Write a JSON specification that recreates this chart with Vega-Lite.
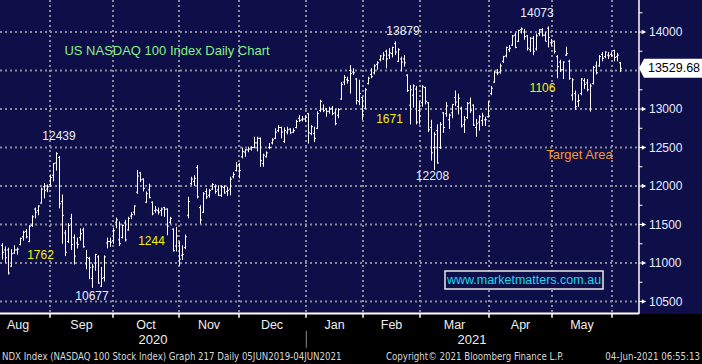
{
"$schema":"https://vega.github.io/schema/vega-lite/v6.json",
"width":702,"height":314,
"autosize":{"type":"none"},
"padding":{"left":0,"top":0,"right":0,"bottom":50},
"background":"#000000",
"config":{"view":{"fill":"#0e0e48","stroke":null}},
"datasets":{
"bars":[
{"date":"2020-08-07","t":0,"o":11230,"h":11258,"l":11045,"c":11140},
{"date":"2020-08-10","t":1,"o":11170,"h":11215,"l":11000,"c":11070},
{"date":"2020-08-11","t":2,"o":11170,"h":11200,"l":10850,"c":10870},
{"date":"2020-08-12","t":3,"o":10960,"h":11180,"l":10950,"c":11120},
{"date":"2020-08-13","t":4,"o":11130,"h":11230,"l":11120,"c":11170},
{"date":"2020-08-14","t":5,"o":11170,"h":11200,"l":11110,"c":11180},
{"date":"2020-08-17","t":6,"o":11240,"h":11330,"l":11230,"c":11320},
{"date":"2020-08-18","t":7,"o":11340,"h":11420,"l":11290,"c":11400},
{"date":"2020-08-19","t":8,"o":11410,"h":11440,"l":11320,"c":11340},
{"date":"2020-08-20","t":9,"o":11280,"h":11490,"l":11270,"c":11480},
{"date":"2020-08-21","t":10,"o":11490,"h":11620,"l":11470,"c":11600},
{"date":"2020-08-24","t":11,"o":11700,"h":11720,"l":11580,"c":11660},
{"date":"2020-08-25","t":12,"o":11680,"h":11750,"l":11620,"c":11740},
{"date":"2020-08-26","t":13,"o":11780,"h":11980,"l":11770,"c":11960},
{"date":"2020-08-27","t":14,"o":11990,"h":12040,"l":11840,"c":11940},
{"date":"2020-08-28","t":15,"o":11960,"h":12020,"l":11920,"c":11990},
{"date":"2020-08-31","t":16,"o":12020,"h":12150,"l":11990,"c":12110},
{"date":"2020-09-01","t":17,"o":12140,"h":12300,"l":12060,"c":12290},
{"date":"2020-09-02","t":18,"o":12300,"h":12439,"l":12200,"c":12420},
{"date":"2020-09-03","t":19,"o":12370,"h":12390,"l":11710,"c":11770},
{"date":"2020-09-04","t":20,"o":11800,"h":11890,"l":11250,"c":11620},
{"date":"2020-09-08","t":21,"o":11390,"h":11430,"l":11090,"c":11140},
{"date":"2020-09-09","t":22,"o":11280,"h":11520,"l":11260,"c":11490},
{"date":"2020-09-10","t":23,"o":11580,"h":11640,"l":11170,"c":11240},
{"date":"2020-09-11","t":24,"o":11330,"h":11370,"l":10980,"c":11090},
{"date":"2020-09-14","t":25,"o":11260,"h":11330,"l":11190,"c":11240},
{"date":"2020-09-15","t":26,"o":11330,"h":11450,"l":11290,"c":11380},
{"date":"2020-09-16","t":27,"o":11430,"h":11460,"l":11200,"c":11210},
{"date":"2020-09-17","t":28,"o":10990,"h":11170,"l":10920,"c":11070},
{"date":"2020-09-18","t":29,"o":11060,"h":11080,"l":10790,"c":10940},
{"date":"2020-09-21","t":30,"o":10800,"h":10990,"l":10677,"c":10950},
{"date":"2020-09-22","t":31,"o":11000,"h":11120,"l":10900,"c":11110},
{"date":"2020-09-23","t":32,"o":11080,"h":11100,"l":10730,"c":10740},
{"date":"2020-09-24","t":33,"o":10700,"h":10950,"l":10690,"c":10800},
{"date":"2020-09-25","t":34,"o":10810,"h":11100,"l":10760,"c":11080},
{"date":"2020-09-28","t":35,"o":11260,"h":11330,"l":11190,"c":11280},
{"date":"2020-09-29","t":36,"o":11280,"h":11330,"l":11210,"c":11270},
{"date":"2020-09-30","t":37,"o":11290,"h":11460,"l":11250,"c":11420},
{"date":"2020-10-01","t":38,"o":11530,"h":11590,"l":11450,"c":11560},
{"date":"2020-10-02","t":39,"o":11300,"h":11540,"l":11220,"c":11250},
{"date":"2020-10-05","t":40,"o":11330,"h":11500,"l":11320,"c":11490},
{"date":"2020-10-06","t":41,"o":11520,"h":11560,"l":11280,"c":11300},
{"date":"2020-10-07","t":42,"o":11430,"h":11600,"l":11420,"c":11580},
{"date":"2020-10-08","t":43,"o":11610,"h":11660,"l":11570,"c":11630},
{"date":"2020-10-09","t":44,"o":11660,"h":11750,"l":11620,"c":11740},
{"date":"2020-10-12","t":45,"o":11920,"h":12208,"l":11900,"c":12130},
{"date":"2020-10-13","t":46,"o":12170,"h":12180,"l":12050,"c":12080},
{"date":"2020-10-14","t":47,"o":12090,"h":12100,"l":11930,"c":11970},
{"date":"2020-10-15","t":48,"o":11790,"h":11930,"l":11780,"c":11900},
{"date":"2020-10-16","t":49,"o":11950,"h":12030,"l":11840,"c":11850},
{"date":"2020-10-19","t":50,"o":11790,"h":11800,"l":11620,"c":11640},
{"date":"2020-10-20","t":51,"o":11680,"h":11740,"l":11650,"c":11690},
{"date":"2020-10-21","t":52,"o":11680,"h":11720,"l":11630,"c":11660},
{"date":"2020-10-22","t":53,"o":11680,"h":11720,"l":11610,"c":11700},
{"date":"2020-10-23","t":54,"o":11720,"h":11730,"l":11600,"c":11700},
{"date":"2020-10-26","t":55,"o":11700,"h":11710,"l":11360,"c":11480},
{"date":"2020-10-27","t":56,"o":11530,"h":11600,"l":11510,"c":11580},
{"date":"2020-10-28","t":57,"o":11440,"h":11450,"l":11150,"c":11160},
{"date":"2020-10-29","t":58,"o":11220,"h":11470,"l":11150,"c":11350},
{"date":"2020-10-30","t":59,"o":11260,"h":11280,"l":10964,"c":11050},
{"date":"2020-11-02","t":60,"o":11100,"h":11230,"l":11040,"c":11110},
{"date":"2020-11-03","t":61,"o":11200,"h":11370,"l":11180,"c":11340},
{"date":"2020-11-04","t":62,"o":11620,"h":11860,"l":11580,"c":11800},
{"date":"2020-11-05","t":63,"o":12030,"h":12120,"l":12010,"c":12090},
{"date":"2020-11-06","t":64,"o":12060,"h":12140,"l":12000,"c":12100},
{"date":"2020-11-09","t":65,"o":12240,"h":12272,"l":11840,"c":11860},
{"date":"2020-11-10","t":66,"o":11720,"h":11750,"l":11510,"c":11560},
{"date":"2020-11-11","t":67,"o":11660,"h":11920,"l":11650,"c":11900},
{"date":"2020-11-12","t":68,"o":11930,"h":11970,"l":11830,"c":11860},
{"date":"2020-11-13","t":69,"o":11880,"h":11960,"l":11850,"c":11940},
{"date":"2020-11-16","t":70,"o":11960,"h":12040,"l":11950,"c":12020},
{"date":"2020-11-17","t":71,"o":11990,"h":12020,"l":11900,"c":11930},
{"date":"2020-11-18","t":72,"o":11950,"h":12010,"l":11870,"c":11880},
{"date":"2020-11-19","t":73,"o":11880,"h":12010,"l":11860,"c":11990},
{"date":"2020-11-20","t":74,"o":11980,"h":12010,"l":11900,"c":11910},
{"date":"2020-11-23","t":75,"o":11930,"h":11990,"l":11870,"c":11940},
{"date":"2020-11-24","t":76,"o":11960,"h":12120,"l":11880,"c":12090},
{"date":"2020-11-25","t":77,"o":12120,"h":12180,"l":12100,"c":12150},
{"date":"2020-11-27","t":78,"o":12200,"h":12310,"l":12190,"c":12260},
{"date":"2020-11-30","t":79,"o":12280,"h":12300,"l":12100,"c":12200},
{"date":"2020-12-01","t":80,"o":12380,"h":12500,"l":12360,"c":12450},
{"date":"2020-12-02","t":81,"o":12440,"h":12480,"l":12380,"c":12470},
{"date":"2020-12-03","t":82,"o":12470,"h":12510,"l":12440,"c":12480},
{"date":"2020-12-04","t":83,"o":12480,"h":12515,"l":12460,"c":12500},
{"date":"2020-12-07","t":84,"o":12500,"h":12640,"l":12490,"c":12560},
{"date":"2020-12-08","t":85,"o":12560,"h":12640,"l":12450,"c":12620},
{"date":"2020-12-09","t":86,"o":12620,"h":12630,"l":12250,"c":12330},
{"date":"2020-12-10","t":87,"o":12290,"h":12420,"l":12250,"c":12400},
{"date":"2020-12-11","t":88,"o":12380,"h":12450,"l":12370,"c":12430},
{"date":"2020-12-14","t":89,"o":12500,"h":12560,"l":12480,"c":12500},
{"date":"2020-12-15","t":90,"o":12560,"h":12620,"l":12540,"c":12600},
{"date":"2020-12-16","t":91,"o":12620,"h":12750,"l":12610,"c":12700},
{"date":"2020-12-17","t":92,"o":12720,"h":12790,"l":12700,"c":12760},
{"date":"2020-12-18","t":93,"o":12760,"h":12770,"l":12620,"c":12700},
{"date":"2020-12-21","t":94,"o":12580,"h":12760,"l":12560,"c":12720},
{"date":"2020-12-22","t":95,"o":12700,"h":12770,"l":12670,"c":12730},
{"date":"2020-12-23","t":96,"o":12740,"h":12750,"l":12680,"c":12690},
{"date":"2020-12-24","t":97,"o":12700,"h":12750,"l":12690,"c":12720},
{"date":"2020-12-28","t":98,"o":12760,"h":12860,"l":12750,"c":12840},
{"date":"2020-12-29","t":99,"o":12880,"h":12920,"l":12830,"c":12850},
{"date":"2020-12-30","t":100,"o":12860,"h":12910,"l":12840,"c":12870},
{"date":"2020-12-31","t":101,"o":12870,"h":12920,"l":12830,"c":12890},
{"date":"2021-01-04","t":102,"o":12940,"h":12950,"l":12550,"c":12690},
{"date":"2021-01-05","t":103,"o":12680,"h":12790,"l":12660,"c":12770},
{"date":"2021-01-06","t":104,"o":12680,"h":12770,"l":12570,"c":12620},
{"date":"2021-01-07","t":105,"o":12750,"h":12970,"l":12740,"c":12940},
{"date":"2021-01-08","t":106,"o":12980,"h":13120,"l":12960,"c":13100},
{"date":"2021-01-11","t":107,"o":13000,"h":13060,"l":12960,"c":12980},
{"date":"2021-01-12","t":108,"o":13000,"h":13010,"l":12900,"c":12970},
{"date":"2021-01-13","t":109,"o":12970,"h":13030,"l":12940,"c":13000},
{"date":"2021-01-14","t":110,"o":13010,"h":13040,"l":12920,"c":12940},
{"date":"2021-01-15","t":111,"o":12950,"h":13000,"l":12790,"c":12810},
{"date":"2021-01-19","t":112,"o":12920,"h":13010,"l":12880,"c":12990},
{"date":"2021-01-20","t":113,"o":13130,"h":13350,"l":13120,"c":13320},
{"date":"2021-01-21","t":114,"o":13350,"h":13440,"l":13310,"c":13410},
{"date":"2021-01-22","t":115,"o":13380,"h":13420,"l":13330,"c":13370},
{"date":"2021-01-25","t":116,"o":13500,"h":13570,"l":13200,"c":13460},
{"date":"2021-01-26","t":117,"o":13480,"h":13530,"l":13440,"c":13470},
{"date":"2021-01-27","t":118,"o":13390,"h":13400,"l":13060,"c":13110},
{"date":"2021-01-28","t":119,"o":13100,"h":13380,"l":13050,"c":13200},
{"date":"2021-01-29","t":120,"o":13150,"h":13160,"l":12860,"c":12930},
{"date":"2021-02-01","t":121,"o":13010,"h":13270,"l":13000,"c":13250},
{"date":"2021-02-02","t":122,"o":13330,"h":13420,"l":13320,"c":13400},
{"date":"2021-02-03","t":123,"o":13450,"h":13530,"l":13400,"c":13420},
{"date":"2021-02-04","t":124,"o":13470,"h":13580,"l":13450,"c":13560},
{"date":"2021-02-05","t":125,"o":13580,"h":13620,"l":13510,"c":13600},
{"date":"2021-02-08","t":126,"o":13640,"h":13700,"l":13620,"c":13690},
{"date":"2021-02-09","t":127,"o":13650,"h":13740,"l":13640,"c":13700},
{"date":"2021-02-10","t":128,"o":13750,"h":13770,"l":13530,"c":13650},
{"date":"2021-02-11","t":129,"o":13700,"h":13790,"l":13650,"c":13730},
{"date":"2021-02-12","t":130,"o":13720,"h":13810,"l":13670,"c":13800},
{"date":"2021-02-16","t":131,"o":13850,"h":13879,"l":13700,"c":13740},
{"date":"2021-02-17","t":132,"o":13620,"h":13790,"l":13610,"c":13770},
{"date":"2021-02-18","t":133,"o":13650,"h":13680,"l":13490,"c":13610},
{"date":"2021-02-19","t":134,"o":13650,"h":13700,"l":13550,"c":13600},
{"date":"2021-02-22","t":135,"o":13440,"h":13450,"l":13220,"c":13240},
{"date":"2021-02-23","t":136,"o":13050,"h":13310,"l":12800,"c":13250},
{"date":"2021-02-24","t":137,"o":13180,"h":13320,"l":13020,"c":13300},
{"date":"2021-02-25","t":138,"o":13260,"h":13300,"l":12800,"c":12830},
{"date":"2021-02-26","t":139,"o":12980,"h":13100,"l":12800,"c":12910},
{"date":"2021-03-01","t":140,"o":13080,"h":13310,"l":13030,"c":13290},
{"date":"2021-03-02","t":141,"o":13280,"h":13290,"l":13060,"c":13100},
{"date":"2021-03-03","t":142,"o":13080,"h":13090,"l":12700,"c":12730},
{"date":"2021-03-04","t":143,"o":12760,"h":12860,"l":12330,"c":12430},
{"date":"2021-03-05","t":144,"o":12500,"h":12700,"l":12208,"c":12670},
{"date":"2021-03-08","t":145,"o":12720,"h":12800,"l":12290,"c":12300},
{"date":"2021-03-09","t":146,"o":12500,"h":12830,"l":12480,"c":12800},
{"date":"2021-03-10","t":147,"o":12950,"h":12960,"l":12690,"c":12760},
{"date":"2021-03-11","t":148,"o":12940,"h":13090,"l":12900,"c":13040},
{"date":"2021-03-12","t":149,"o":12860,"h":12940,"l":12740,"c":12920},
{"date":"2021-03-15","t":150,"o":12950,"h":13060,"l":12880,"c":13060},
{"date":"2021-03-16","t":151,"o":13150,"h":13240,"l":13040,"c":13090},
{"date":"2021-03-17","t":152,"o":13030,"h":13200,"l":12930,"c":13140},
{"date":"2021-03-18","t":153,"o":13010,"h":13030,"l":12760,"c":12780},
{"date":"2021-03-19","t":154,"o":12800,"h":12910,"l":12690,"c":12860},
{"date":"2021-03-22","t":155,"o":12890,"h":13090,"l":12870,"c":13070},
{"date":"2021-03-23","t":156,"o":13080,"h":13150,"l":12950,"c":12980},
{"date":"2021-03-24","t":157,"o":13050,"h":13060,"l":12780,"c":12790},
{"date":"2021-03-25","t":158,"o":12760,"h":12870,"l":12640,"c":12810},
{"date":"2021-03-26","t":159,"o":12830,"h":12920,"l":12720,"c":12900},
{"date":"2021-03-29","t":160,"o":12850,"h":12950,"l":12780,"c":12910},
{"date":"2021-03-30","t":161,"o":12860,"h":12900,"l":12780,"c":12860},
{"date":"2021-03-31","t":162,"o":12900,"h":13100,"l":12890,"c":13090},
{"date":"2021-04-01","t":163,"o":13200,"h":13300,"l":13180,"c":13270},
{"date":"2021-04-05","t":164,"o":13350,"h":13500,"l":13340,"c":13480},
{"date":"2021-04-06","t":165,"o":13470,"h":13520,"l":13440,"c":13470},
{"date":"2021-04-07","t":166,"o":13480,"h":13590,"l":13460,"c":13560},
{"date":"2021-04-08","t":167,"o":13620,"h":13690,"l":13600,"c":13680},
{"date":"2021-04-09","t":168,"o":13690,"h":13810,"l":13670,"c":13800},
{"date":"2021-04-12","t":169,"o":13770,"h":13830,"l":13740,"c":13790},
{"date":"2021-04-13","t":170,"o":13830,"h":13960,"l":13820,"c":13950},
{"date":"2021-04-14","t":171,"o":13960,"h":13990,"l":13790,"c":13800},
{"date":"2021-04-15","t":172,"o":13880,"h":14030,"l":13870,"c":14020},
{"date":"2021-04-16","t":173,"o":14030,"h":14060,"l":13980,"c":14040},
{"date":"2021-04-19","t":174,"o":14000,"h":14040,"l":13900,"c":13940},
{"date":"2021-04-20","t":175,"o":13950,"h":13960,"l":13760,"c":13790},
{"date":"2021-04-21","t":176,"o":13770,"h":13930,"l":13740,"c":13920},
{"date":"2021-04-22","t":177,"o":13920,"h":13950,"l":13700,"c":13750},
{"date":"2021-04-23","t":178,"o":13780,"h":13980,"l":13760,"c":13950},
{"date":"2021-04-26","t":179,"o":13980,"h":14040,"l":13950,"c":14030},
{"date":"2021-04-27","t":180,"o":14030,"h":14050,"l":13940,"c":13960},
{"date":"2021-04-28","t":181,"o":13960,"h":14000,"l":13880,"c":13880},
{"date":"2021-04-29","t":182,"o":14050,"h":14073,"l":13800,"c":13930},
{"date":"2021-04-30","t":183,"o":13860,"h":13910,"l":13820,"c":13860},
{"date":"2021-05-03","t":184,"o":13880,"h":13890,"l":13720,"c":13750},
{"date":"2021-05-04","t":185,"o":13680,"h":13700,"l":13400,"c":13550},
{"date":"2021-05-05","t":186,"o":13610,"h":13640,"l":13480,"c":13510},
{"date":"2021-05-06","t":187,"o":13510,"h":13620,"l":13390,"c":13610},
{"date":"2021-05-07","t":188,"o":13700,"h":13810,"l":13690,"c":13720},
{"date":"2021-05-10","t":189,"o":13620,"h":13640,"l":13380,"c":13400},
{"date":"2021-05-11","t":190,"o":13180,"h":13400,"l":13110,"c":13380},
{"date":"2021-05-12","t":191,"o":13200,"h":13240,"l":12990,"c":13030},
{"date":"2021-05-13","t":192,"o":13100,"h":13190,"l":13030,"c":13110},
{"date":"2021-05-14","t":193,"o":13200,"h":13400,"l":13180,"c":13390},
{"date":"2021-05-17","t":194,"o":13370,"h":13400,"l":13260,"c":13320},
{"date":"2021-05-18","t":195,"o":13340,"h":13390,"l":13230,"c":13250},
{"date":"2021-05-19","t":196,"o":13000,"h":13330,"l":12967,"c":13300},
{"date":"2021-05-20","t":197,"o":13330,"h":13560,"l":13320,"c":13540},
{"date":"2021-05-21","t":198,"o":13560,"h":13620,"l":13450,"c":13470},
{"date":"2021-05-24","t":199,"o":13560,"h":13700,"l":13550,"c":13680},
{"date":"2021-05-25","t":200,"o":13710,"h":13740,"l":13620,"c":13660},
{"date":"2021-05-26","t":201,"o":13680,"h":13750,"l":13660,"c":13740},
{"date":"2021-05-27","t":202,"o":13700,"h":13740,"l":13650,"c":13690},
{"date":"2021-05-28","t":203,"o":13710,"h":13740,"l":13680,"c":13700},
{"date":"2021-06-01","t":204,"o":13760,"h":13770,"l":13620,"c":13670},
{"date":"2021-06-02","t":205,"o":13680,"h":13730,"l":13620,"c":13700},
{"date":"2021-06-03","t":206,"o":13600,"h":13610,"l":13480,"c":13529.68}
],
"hgrid":[{"p":10500},{"p":11000},{"p":11500},{"p":12000},{"p":12500},{"p":13000},{"p":13500},{"p":14000}],
"vgrid":[{"t":15.83},{"t":36.83},{"t":58.83},{"t":78.83},{"t":101.17},{"t":120.17},{"t":139.17},{"t":162.17},{"t":183.17},{"t":203.17}],
"months":[{"t":5.17,"m":"Aug"},{"t":26.33,"m":"Sep"},{"t":47.83,"m":"Oct"},{"t":68.83,"m":"Nov"},{"t":89.83,"m":"Dec"},{"t":110.67,"m":"Jan"},{"t":129.67,"m":"Feb"},{"t":150.67,"m":"Mar"},{"t":172.67,"m":"Apr"},{"t":193.17,"m":"May"}],
"minor":[{"p":10750},{"p":11250},{"p":11750},{"p":12250},{"p":12750},{"p":13250},{"p":13750},{"p":14250}],
"major":[{"p":10500},{"p":11000},{"p":11500},{"p":12000},{"p":12500},{"p":13000},{"p":14000}],
"last":[{"p":13529.68,"label":"13529.68"}],
"ann":[
{"t":54.83,"p":13753,"text":"US NASDAQ 100 Index Daily Chart","kind":"title"},
{"t":18.83,"p":12649,"text":"12439","kind":"level"},
{"t":12.67,"p":11104,"text":"1762","kind":"move"},
{"t":29.83,"p":10571,"text":"10677","kind":"level"},
{"t":49.67,"p":11286,"text":"1244","kind":"move"},
{"t":133.5,"p":14013,"text":"13879","kind":"level"},
{"t":129,"p":12870,"text":"1671","kind":"move"},
{"t":143.33,"p":12130,"text":"12208","kind":"level"},
{"t":178.17,"p":14247,"text":"14073","kind":"level"},
{"t":180,"p":13273,"text":"1106","kind":"move"},
{"t":192.33,"p":12403,"text":"Target Area","kind":"target"},
{"t":173.83,"p":10779,"text":"www.marketmatters.com.au","kind":"url"}
],
"years":[{"t":50.17,"p":10000,"text":"2020"},{"t":156.5,"p":10000,"text":"2021"}],
"footer":[
{"t":-0.17,"p":9786,"text":"NDX Index (NASDAQ 100 Stock Index) Graph 217  Daily 05JUN2019-04JUN2021","side":"left"},
{"t":127.83,"p":9786,"text":"Copyright© 2021 Bloomberg Finance L.P.","side":"left"},
{"t":232.5,"p":9786,"text":"04-Jun-2021 06:55:13","side":"right"}
]
},
"layer":[
{"data":{"name":"hgrid"},
 "mark":{"type":"rule","color":"#8a8a98","strokeWidth":2,"strokeDash":[2,3]},
 "encoding":{"x":{"datum":-0.8333,"type":"quantitative","scale":{"domain":[-0.8333,233.1667],"nice":false,"zero":false},"axis":null},
  "x2":{"datum":212.1667},
  "y":{"field":"p","type":"quantitative","scale":{"domain":[10338,14416],"nice":false,"zero":false},"axis":null}}},
{"data":{"name":"vgrid"},
 "mark":{"type":"rule","color":"#8a8a98","strokeWidth":2,"strokeDash":[2,3]},
 "encoding":{"x":{"field":"t","type":"quantitative","scale":{"domain":[-0.8333,233.1667],"nice":false,"zero":false},"axis":null},
  "y":{"datum":14416,"type":"quantitative","scale":{"domain":[10338,14416],"nice":false,"zero":false},"axis":null},
  "y2":{"datum":10338}}},
{"data":{"name":"bars"},
 "layer":[
  {"mark":{"type":"rule","color":"#ffffff","strokeWidth":1},
   "encoding":{"x":{"field":"t","type":"quantitative","scale":{"domain":[-0.8333,233.1667],"nice":false,"zero":false},"axis":null},
    "y":{"field":"l","type":"quantitative","scale":{"domain":[10338,14416],"nice":false,"zero":false},"axis":null},
    "y2":{"field":"h"}}},
  {"mark":{"type":"rule","color":"#ffffff","strokeWidth":1,"xOffset":-1.5,"x2Offset":0},
   "encoding":{"x":{"field":"t","type":"quantitative","scale":{"domain":[-0.8333,233.1667],"nice":false,"zero":false},"axis":null},
    "x2":{"field":"t"},
    "y":{"field":"o","type":"quantitative","scale":{"domain":[10338,14416],"nice":false,"zero":false},"axis":null}}},
  {"mark":{"type":"rule","color":"#ffffff","strokeWidth":1,"xOffset":0,"x2Offset":1.5},
   "encoding":{"x":{"field":"t","type":"quantitative","scale":{"domain":[-0.8333,233.1667],"nice":false,"zero":false},"axis":null},
    "x2":{"field":"t"},
    "y":{"field":"c","type":"quantitative","scale":{"domain":[10338,14416],"nice":false,"zero":false},"axis":null}}}
 ]},
{"data":{"values":[{"item":"url box"}]},
 "mark":{"type":"rect","fill":"#0e0e48","stroke":"#e8e8e8","strokeWidth":1.5},
 "encoding":{"x":{"datum":147.5,"type":"quantitative","scale":{"domain":[-0.8333,233.1667],"nice":false,"zero":false},"axis":null},
  "x2":{"datum":200.17},
  "y":{"datum":10896,"type":"quantitative","scale":{"domain":[10338,14416],"nice":false,"zero":false},"axis":null},
  "y2":{"datum":10662}}},
{"data":{"name":"ann"},
 "transform":[{"filter":"datum.kind == 'level' || datum.kind == 'move'"}],
 "mark":{"type":"text","fontSize":12,"align":"center","baseline":"middle","font":"Liberation Sans"},
 "encoding":{"x":{"field":"t","type":"quantitative","scale":{"domain":[-0.8333,233.1667],"nice":false,"zero":false},"axis":null},
  "y":{"field":"p","type":"quantitative","scale":{"domain":[10338,14416],"nice":false,"zero":false},"axis":null},
  "text":{"field":"text"},
  "color":{"field":"kind","type":"nominal","scale":{"domain":["level","move","title","target","url"],"range":["#e8f0ff","#f2f20a","#86f086","#f39a2e","#1fd8f0"]},"legend":null}}},
{"data":{"name":"ann"},
 "transform":[{"filter":"datum.kind == 'title' || datum.kind == 'target'"}],
 "mark":{"type":"text","fontSize":13,"align":"center","baseline":"middle","font":"Liberation Sans"},
 "encoding":{"x":{"field":"t","type":"quantitative","scale":{"domain":[-0.8333,233.1667],"nice":false,"zero":false},"axis":null},
  "y":{"field":"p","type":"quantitative","scale":{"domain":[10338,14416],"nice":false,"zero":false},"axis":null},
  "text":{"field":"text"},
  "color":{"field":"kind","type":"nominal","scale":{"domain":["level","move","title","target","url"],"range":["#e8f0ff","#f2f20a","#86f086","#f39a2e","#1fd8f0"]},"legend":null}}},
{"data":{"name":"ann"},
 "transform":[{"filter":"datum.kind == 'url'"}],
 "mark":{"type":"text","fontSize":12.5,"align":"center","baseline":"middle","font":"Liberation Sans"},
 "encoding":{"x":{"field":"t","type":"quantitative","scale":{"domain":[-0.8333,233.1667],"nice":false,"zero":false},"axis":null},
  "y":{"field":"p","type":"quantitative","scale":{"domain":[10338,14416],"nice":false,"zero":false},"axis":null},
  "text":{"field":"text"},
  "color":{"field":"kind","type":"nominal","scale":{"domain":["level","move","title","target","url"],"range":["#e8f0ff","#f2f20a","#86f086","#f39a2e","#1fd8f0"]},"legend":null}}},
{"data":{"values":[{"item":"price axis line"}]},
 "mark":{"type":"rule","color":"#ffffff","strokeWidth":1.5},
 "encoding":{"x":{"datum":212.1667,"type":"quantitative","scale":{"domain":[-0.8333,233.1667],"nice":false,"zero":false},"axis":null},
  "y":{"datum":14416,"type":"quantitative","scale":{"domain":[10338,14416],"nice":false,"zero":false},"axis":null},
  "y2":{"datum":10338}}},
{"data":{"values":[{"item":"time axis line"}]},
 "mark":{"type":"rule","color":"#ffffff","strokeWidth":2},
 "encoding":{"x":{"datum":-0.8333,"type":"quantitative","scale":{"domain":[-0.8333,233.1667],"nice":false,"zero":false},"axis":null},
  "x2":{"datum":212.1667},
  "y":{"datum":10345,"type":"quantitative","scale":{"domain":[10338,14416],"nice":false,"zero":false},"axis":null}}},
{"data":{"name":"vgrid"},
 "mark":{"type":"rule","color":"#ffffff","strokeWidth":1.5},
 "encoding":{"x":{"field":"t","type":"quantitative","scale":{"domain":[-0.8333,233.1667],"nice":false,"zero":false},"axis":null},
  "y":{"datum":10345,"type":"quantitative","scale":{"domain":[10338,14416],"nice":false,"zero":false},"axis":null},
  "y2":{"datum":10290}}},
{"data":{"name":"months"},
 "mark":{"type":"text","fontSize":12.5,"align":"center","baseline":"middle","color":"#f0f0f0","font":"Liberation Sans"},
 "encoding":{"x":{"field":"t","type":"quantitative","scale":{"domain":[-0.8333,233.1667],"nice":false,"zero":false},"axis":null},
  "y":{"datum":10200,"type":"quantitative","scale":{"domain":[10338,14416],"nice":false,"zero":false},"axis":null},
  "text":{"field":"m"}}},
{"data":{"name":"minor"},
 "mark":{"type":"rule","color":"#ffffff","strokeWidth":1},
 "encoding":{"x":{"datum":212.1667,"type":"quantitative","scale":{"domain":[-0.8333,233.1667],"nice":false,"zero":false},"axis":null},
  "x2":{"datum":213.3333},
  "y":{"field":"p","type":"quantitative","scale":{"domain":[10338,14416],"nice":false,"zero":false},"axis":null}}},
{"data":{"name":"major"},
 "mark":{"type":"rule","color":"#ffffff","strokeWidth":1},
 "encoding":{"x":{"datum":212.1667,"type":"quantitative","scale":{"domain":[-0.8333,233.1667],"nice":false,"zero":false},"axis":null},
  "x2":{"datum":213.5},
  "y":{"field":"p","type":"quantitative","scale":{"domain":[10338,14416],"nice":false,"zero":false},"axis":null}}},
{"data":{"name":"major"},
 "mark":{"type":"point","shape":"M -1 -1 L 1 0 L -1 1 Z","size":20,"filled":true,"color":"#ffffff","opacity":1},
 "encoding":{"x":{"datum":213.83,"type":"quantitative","scale":{"domain":[-0.8333,233.1667],"nice":false,"zero":false},"axis":null},
  "y":{"field":"p","type":"quantitative","scale":{"domain":[10338,14416],"nice":false,"zero":false},"axis":null}}},
{"data":{"name":"major"},
 "mark":{"type":"text","fontSize":12,"align":"left","baseline":"middle","color":"#e6ecff","font":"Liberation Sans"},
 "encoding":{"x":{"datum":215.5,"type":"quantitative","scale":{"domain":[-0.8333,233.1667],"nice":false,"zero":false},"axis":null},
  "y":{"field":"p","type":"quantitative","scale":{"domain":[10338,14416],"nice":false,"zero":false},"axis":null},
  "text":{"field":"p","type":"quantitative","format":"d"}}},
{"data":{"name":"last"},
 "mark":{"type":"point","shape":"M -1 0 L -0.84 -0.3 L 1 -0.3 L 1 0.3 L -0.84 0.3 Z","size":3969,"filled":true,"color":"#ffffff","opacity":1},
 "encoding":{"x":{"datum":222.67,"type":"quantitative","scale":{"domain":[-0.8333,233.1667],"nice":false,"zero":false},"axis":null},
  "y":{"field":"p","type":"quantitative","scale":{"domain":[10338,14416],"nice":false,"zero":false},"axis":null}}},
{"data":{"name":"last"},
 "mark":{"type":"text","fontSize":12.5,"align":"center","baseline":"middle","color":"#000000","font":"Liberation Sans"},
 "encoding":{"x":{"datum":223.83,"type":"quantitative","scale":{"domain":[-0.8333,233.1667],"nice":false,"zero":false},"axis":null},
  "y":{"field":"p","type":"quantitative","scale":{"domain":[10338,14416],"nice":false,"zero":false},"axis":null},
  "text":{"field":"label"}}},
{"data":{"name":"years"},
 "mark":{"type":"text","fontSize":13,"align":"center","baseline":"middle","color":"#f0f0f0","font":"Liberation Sans"},
 "encoding":{"x":{"field":"t","type":"quantitative","scale":{"domain":[-0.8333,233.1667],"nice":false,"zero":false},"axis":null},
  "y":{"field":"p","type":"quantitative","scale":{"domain":[10338,14416],"nice":false,"zero":false},"axis":null},
  "text":{"field":"text"}}},
{"data":{"values":[{"item":"year divider"}]},
 "mark":{"type":"rule","color":"#8c8c8c","strokeWidth":1},
 "encoding":{"x":{"datum":101.27,"type":"quantitative","scale":{"domain":[-0.8333,233.1667],"nice":false,"zero":false},"axis":null},
  "y":{"datum":10117,"type":"quantitative","scale":{"domain":[10338,14416],"nice":false,"zero":false},"axis":null},
  "y2":{"datum":9900}}},
{"data":{"name":"footer"},
 "transform":[{"filter":"datum.side == 'left'"}],
 "mark":{"type":"text","fontSize":9.6,"align":"left","baseline":"middle","color":"#d8d8d8","font":"DejaVu Sans Condensed"},
 "encoding":{"x":{"field":"t","type":"quantitative","scale":{"domain":[-0.8333,233.1667],"nice":false,"zero":false},"axis":null},
  "y":{"field":"p","type":"quantitative","scale":{"domain":[10338,14416],"nice":false,"zero":false},"axis":null},
  "text":{"field":"text"}}},
{"data":{"name":"footer"},
 "transform":[{"filter":"datum.side == 'right'"}],
 "mark":{"type":"text","fontSize":9.6,"align":"right","baseline":"middle","color":"#d8d8d8","font":"DejaVu Sans Condensed"},
 "encoding":{"x":{"field":"t","type":"quantitative","scale":{"domain":[-0.8333,233.1667],"nice":false,"zero":false},"axis":null},
  "y":{"field":"p","type":"quantitative","scale":{"domain":[10338,14416],"nice":false,"zero":false},"axis":null},
  "text":{"field":"text"}}}
]
}
